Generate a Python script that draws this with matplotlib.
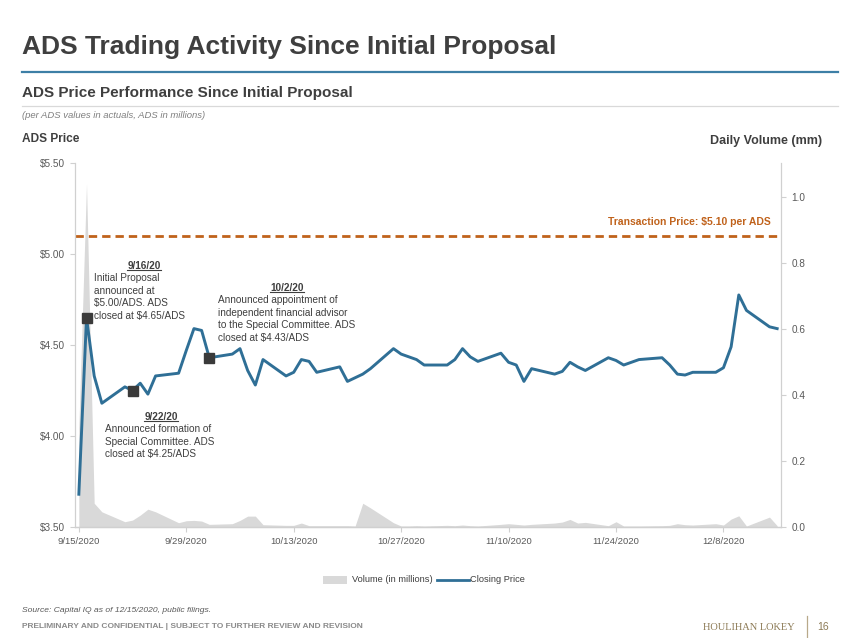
import matplotlib
matplotlib.use("Agg")
import matplotlib.pyplot as plt
import matplotlib.dates as mdates
from matplotlib.lines import Line2D
from matplotlib.patches import Rectangle
import numpy as np
import pandas as pd

plt.rcParams['font.family'] = ['Liberation Sans', 'DejaVu Sans']

# ---------------- data ----------------
dates = [
    "2020-09-15", "2020-09-16", "2020-09-17", "2020-09-18", "2020-09-21", "2020-09-22",
    "2020-09-23", "2020-09-24", "2020-09-25", "2020-09-28", "2020-09-29", "2020-09-30",
    "2020-10-01", "2020-10-02", "2020-10-05", "2020-10-06", "2020-10-07", "2020-10-08",
    "2020-10-09", "2020-10-12", "2020-10-13", "2020-10-14", "2020-10-15", "2020-10-16",
    "2020-10-19", "2020-10-20", "2020-10-21", "2020-10-22", "2020-10-23", "2020-10-26",
    "2020-10-27", "2020-10-28", "2020-10-29", "2020-10-30", "2020-11-02", "2020-11-03",
    "2020-11-04", "2020-11-05", "2020-11-06", "2020-11-09", "2020-11-10", "2020-11-11",
    "2020-11-12", "2020-11-13", "2020-11-16", "2020-11-17", "2020-11-18", "2020-11-19",
    "2020-11-20", "2020-11-23", "2020-11-24", "2020-11-25", "2020-11-27", "2020-11-30",
    "2020-12-01", "2020-12-02", "2020-12-03", "2020-12-04", "2020-12-07", "2020-12-08",
    "2020-12-09", "2020-12-10", "2020-12-11", "2020-12-14", "2020-12-15",
]
closing_price = [
    3.68, 4.65, 4.33, 4.18, 4.27, 4.25,
    4.29, 4.23, 4.33, 4.345, 4.47, 4.59,
    4.58, 4.43, 4.45, 4.48, 4.36, 4.28,
    4.42, 4.33, 4.35, 4.42, 4.41, 4.35,
    4.38, 4.30, 4.32, 4.34, 4.37, 4.48,
    4.45, 4.435, 4.42, 4.39, 4.39, 4.42,
    4.48, 4.435, 4.41, 4.455, 4.405, 4.39,
    4.30, 4.37, 4.34, 4.355, 4.405, 4.38,
    4.36, 4.43, 4.415, 4.39, 4.42, 4.43,
    4.39, 4.34, 4.335, 4.35, 4.35, 4.375,
    4.49, 4.775, 4.69, 4.60, 4.59,
]
volume = [
    0.30, 1.04, 0.072, 0.046, 0.016, 0.021,
    0.036, 0.054, 0.046, 0.013, 0.019, 0.020,
    0.018, 0.008, 0.010, 0.020, 0.033, 0.033,
    0.007, 0.005, 0.005, 0.012, 0.004, 0.004,
    0.004, 0.004, 0.003, 0.072, 0.058, 0.013,
    0.003, 0.003, 0.004, 0.003, 0.005, 0.004,
    0.006, 0.004, 0.003, 0.008, 0.010, 0.008,
    0.006, 0.008, 0.012, 0.015, 0.023, 0.012,
    0.014, 0.004, 0.016, 0.003, 0.003, 0.004,
    0.005, 0.010, 0.007, 0.006, 0.010, 0.006,
    0.024, 0.034, 0.003, 0.030, 0.004,
]
transaction_price = 5.10
x_tick_dates = ["2020-09-15", "2020-09-29", "2020-10-13", "2020-10-27",
                "2020-11-10", "2020-11-24", "2020-12-08"]
price_ticks = [3.50, 4.00, 4.50, 5.00, 5.50]
volume_ticks = [0.0, 0.2, 0.4, 0.6, 0.8, 1.0]
event_dates = ["2020-09-16", "2020-09-22", "2020-10-02"]

# ---------------- figure ----------------
W, H = 850, 638
fig = plt.figure(figsize=(W / 100, H / 100), dpi=100)

def fx(px):
    return px / W

def fy(py):
    return 1 - py / H

DARK = "#3f3f3f"
TICK = "#595959"
BLUE = "#2f6f96"
ORANGE = "#c0621b"
GREY_AX = "#d0d0d0"

# header
fig.text(fx(22), fy(47), "ADS Trading Activity Since Initial Proposal", fontsize=19,
         fontweight="bold", color=DARK, va="center", ha="left")
fig.add_artist(Line2D([fx(22), fx(838)], [fy(72), fy(72)], color="#3d7fa6", lw=1.6))
fig.text(fx(22), fy(93), "ADS Price Performance Since Initial Proposal", fontsize=11,
         fontweight="bold", color=DARK, va="center", ha="left")
fig.add_artist(Line2D([fx(22), fx(838)], [fy(106), fy(106)], color="#d9d9d9", lw=0.9))
fig.text(fx(22), fy(115), "(per ADS values in actuals, ADS in millions)", fontsize=6.8,
         style="italic", color="#7f7f7f", va="center", ha="left")
fig.text(fx(22), fy(139), "ADS Price", fontsize=8.6, fontweight="bold", color=DARK,
         va="center", ha="left")
fig.text(fx(822), fy(141), "Daily Volume (mm)", fontsize=9, fontweight="bold", color=DARK,
         va="center", ha="right")

# axes
ax = fig.add_axes([fx(75), fy(527), fx(781) - fx(75), fy(163) - fy(527)])
axv = ax.twinx()
ax.set_zorder(axv.get_zorder() + 1)
ax.patch.set_visible(False)

d = pd.to_datetime(dates)
axv.fill_between(d, 0, volume, color="#d9d9d9", lw=0, zorder=1)
axv.set_ylim(0, 1.103)
axv.set_yticks(volume_ticks)
axv.set_yticklabels([f"{v:.1f}" for v in volume_ticks])

ax.plot(d, closing_price, color=BLUE, lw=2.1, zorder=3)
ax.axhline(transaction_price, color=ORANGE, lw=2.0, dashes=(3.0, 1.8), zorder=2)
ev = pd.to_datetime(event_dates)
ev_prices = [closing_price[dates.index(e)] for e in event_dates]
ax.plot(ev, ev_prices, ls="none", marker="s", ms=6.5, color="#3a3a3a", zorder=4)

ax.set_ylim(3.5, 5.5)
ax.set_yticks(price_ticks)
ax.set_yticklabels([f"${p:.2f}" for p in price_ticks])
x0 = pd.Timestamp("2020-09-15") - pd.Timedelta(hours=12)
x1 = pd.Timestamp("2020-12-15") + pd.Timedelta(hours=12)
ax.set_xlim(x0, x1)
xt = pd.to_datetime(x_tick_dates)
ax.set_xticks(xt)
ax.set_xticklabels([f"{t.month}/{t.day}/{t.year}" for t in xt])

for a in (ax, axv):
    for s in a.spines.values():
        s.set_color(GREY_AX)
        s.set_linewidth(0.9)
    a.spines["top"].set_visible(False)
    a.tick_params(colors=GREY_AX, labelcolor=TICK, labelsize=6.8, length=3.5, width=0.8)
ax.spines["right"].set_visible(False)
axv.spines["left"].set_visible(False)
ax.tick_params(axis="y", pad=4, labelsize=7.2)
ax.tick_params(axis="x", pad=4)
axv.tick_params(axis="y", pad=4, labelsize=7.2)

# transaction label
fig.text(fx(771), fy(222), "Transaction Price: $5.10 per ADS", fontsize=7.5,
         fontweight="bold", color=ORANGE, ha="right", va="center")

# annotations
ann_fs = 7.2
heads = []
heads.append(fig.text(fx(144), fy(266), "9/16/20", fontsize=ann_fs, fontweight="bold",
                      color=DARK, ha="center", va="center"))
fig.text(fx(94), fy(273), "Initial Proposal\nannounced at\n$5.00/ADS. ADS\nclosed at $4.65/ADS",
         fontsize=ann_fs, color=DARK, ha="left", va="top", linespacing=1.33)
heads.append(fig.text(fx(287), fy(288), "10/2/20", fontsize=ann_fs, fontweight="bold",
                      color=DARK, ha="center", va="center"))
fig.text(fx(218), fy(295),
         "Announced appointment of\nindependent financial advisor\nto the Special Committee. ADS\nclosed at $4.43/ADS",
         fontsize=ann_fs, color=DARK, ha="left", va="top", linespacing=1.33)
heads.append(fig.text(fx(161), fy(417), "9/22/20", fontsize=ann_fs, fontweight="bold",
                      color=DARK, ha="center", va="center"))
fig.text(fx(105), fy(424), "Announced formation of\nSpecial Committee. ADS\nclosed at $4.25/ADS",
         fontsize=ann_fs, color=DARK, ha="left", va="top", linespacing=1.33)

# legend
fig.add_artist(Rectangle((fx(323), fy(584)), fx(24), fy(576) - fy(584),
                         transform=fig.transFigure, color="#d9d9d9", lw=0))
fig.text(fx(352), fy(580), "Volume (in millions)", fontsize=6.7, color=DARK, va="center", ha="left")
fig.add_artist(Line2D([fx(437), fx(469)], [fy(580), fy(580)], color=BLUE, lw=2))
fig.text(fx(470), fy(580), "Closing Price", fontsize=6.7, color=DARK, va="center", ha="left")

# footer
fig.text(fx(22), fy(611), "Source: Capital IQ as of 12/15/2020, public filings.", fontsize=6.1,
         style="italic", color="#595959", va="center", ha="left")
fig.text(fx(22), fy(627), "PRELIMINARY AND CONFIDENTIAL | SUBJECT TO FURTHER REVIEW AND REVISION",
         fontsize=6.0, fontweight="bold", color="#8a8a8a", va="center", ha="left")
fig.text(fx(795), fy(627), "HOULIHAN LOKEY", fontsize=7.5, family="Liberation Serif",
         color="#8c7a55", va="center", ha="right")
fig.add_artist(Line2D([fx(807), fx(807)], [fy(616), fy(638)], color="#b8a98a", lw=0.9))
fig.text(fx(817), fy(627), "16", fontsize=7.5, color="#8c7a55", va="center", ha="left")

# underline headings
fig.canvas.draw()
r = fig.canvas.get_renderer()
for t in heads:
    bb = t.get_window_extent(renderer=r)
    yb = bb.y0 + 1.0
    fig.add_artist(Line2D([bb.x0 / W, bb.x1 / W], [yb / H, yb / H], color=DARK, lw=0.8))

fig.savefig("out.png", dpi=100)
